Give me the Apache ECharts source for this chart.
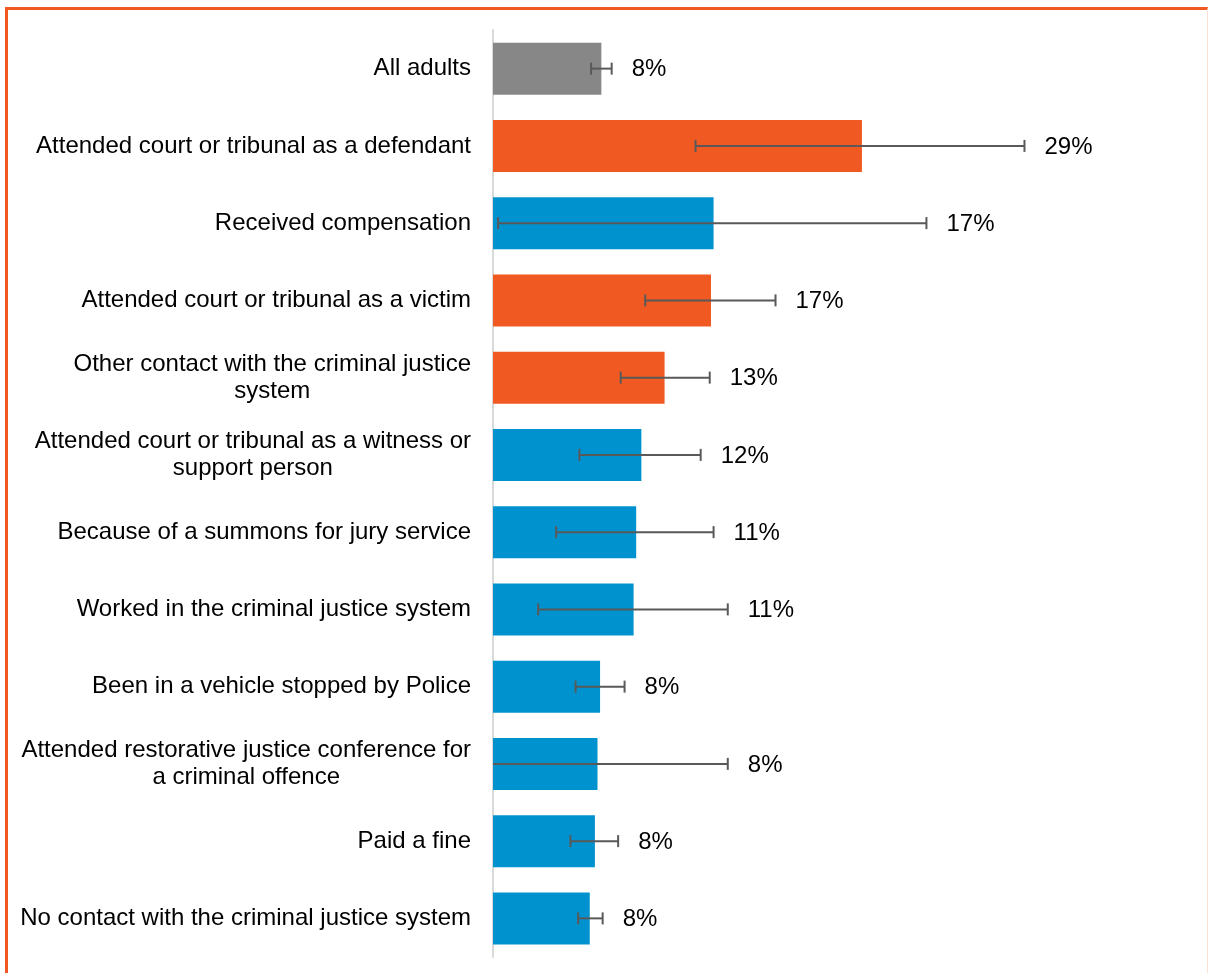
<!DOCTYPE html>
<html><head><meta charset="utf-8">
<script src="https://cdn.jsdelivr.net/npm/echarts@6/dist/echarts.min.js"></script>
<style>
html,body{margin:0;padding:0;background:#fff;}
#frame{position:absolute;left:5px;top:7px;width:1199px;height:966px;border-top:3px solid #f05a22;border-left:3px solid #f05a22;border-right:1px solid #fbe0d5;}
#chart{position:absolute;left:0;top:0;width:1209px;height:973px;}
</style></head>
<body>
<div id="frame"></div>
<div id="chart"></div>
<script>
const categories = [
  "All adults",
  "Attended court or tribunal as a defendant",
  "Received compensation",
  "Attended court or tribunal as a victim",
  "Other contact with the criminal justice\nsystem",
  "Attended court or tribunal as a witness or\nsupport person",
  "Because of a summons for jury service",
  "Worked in the criminal justice system",
  "Been in a vehicle stopped by Police",
  "Attended restorative justice conference for\na criminal offence",
  "Paid a fine",
  "No contact with the criminal justice system"
];
const values = [8.4, 28.6, 17.1, 16.9, 13.3, 11.5, 11.1, 10.9, 8.3, 8.1, 7.9, 7.5];
const lowerCI = [7.6, 15.7, 0.4, 11.8, 9.9, 6.7, 4.9, 3.5, 6.4, 0.0, 6.0, 6.6];
const upperCI = [9.2, 41.2, 33.6, 21.9, 16.8, 16.1, 17.1, 18.2, 10.2, 18.2, 9.7, 8.5];
const valueLabels = ["8%", "29%", "17%", "17%", "13%", "12%", "11%", "11%", "8%", "8%", "8%", "8%"];
const groups = ["all", "orange", "blue", "orange", "orange", "blue", "blue", "blue", "blue", "blue", "blue", "blue"];
const groupColors = {all: "#878787", orange: "#f05a22", blue: "#0092cf"};

const FONT = '24px "Liberation Sans", Arial, sans-serif';
const ctx = document.createElement('canvas').getContext('2d');
ctx.font = FONT;
const blockWidth = categories.map(c => Math.max.apply(null, c.split('\n').map(l => ctx.measureText(l).width)));

const chart = echarts.init(document.getElementById('chart'));
const errData = categories.map((c, i) => [i, lowerCI[i], upperCI[i]]);
const catData = categories.map((c, i) => [i]);
chart.setOption({
  animation: false,
  grid: {left: 493, top: 30, width: 645, height: 927},
  xAxis: {type: 'value', min: 0, max: 50, show: false},
  yAxis: {
    type: 'category', data: categories, inverse: true,
    axisLine: {show: true, lineStyle: {color: '#d9d9d9', width: 2}},
    axisTick: {show: false},
    axisLabel: {show: false}
  },
  series: [
    {
      type: 'bar', barWidth: 52,
      data: values.map((v, i) => ({value: v, itemStyle: {color: groupColors[groups[i]]}}))
    },
    {
      type: 'custom',
      data: catData,
      z: 5,
      renderItem: function (params, api) {
        const idx = api.value(0);
        const p = api.coord([0, idx]);
        const w = blockWidth[params.dataIndex];
        return {type: 'text', style: {text: categories[params.dataIndex], x: p[0] - 22 - w / 2, y: p[1],
          align: 'center', verticalAlign: 'middle', lineHeight: 27, fill: '#000', font: FONT}};
      }
    },
    {
      type: 'custom',
      data: errData,
      z: 5,
      renderItem: function (params, api) {
        const idx = api.value(0);
        const lo = api.coord([api.value(1), idx]);
        const hi = api.coord([api.value(2), idx]);
        const y = lo[1];
        const cap = 6;
        const style = {stroke: '#595959', lineWidth: 2};
        const children = [
          {type: 'line', shape: {x1: lo[0], y1: y, x2: hi[0], y2: y}, style: style},
          {type: 'line', shape: {x1: hi[0], y1: y - cap, x2: hi[0], y2: y + cap}, style: style},
          {type: 'text', style: {text: valueLabels[params.dataIndex], x: hi[0] + 20, y: y + 1, verticalAlign: 'middle', fill: '#000', font: FONT}}
        ];
        if (api.value(1) > 0.2) {
          children.push({type: 'line', shape: {x1: lo[0], y1: y - cap, x2: lo[0], y2: y + cap}, style: style});
        }
        return {type: 'group', children: children};
      }
    }
  ]
});
</script>
</body></html>
